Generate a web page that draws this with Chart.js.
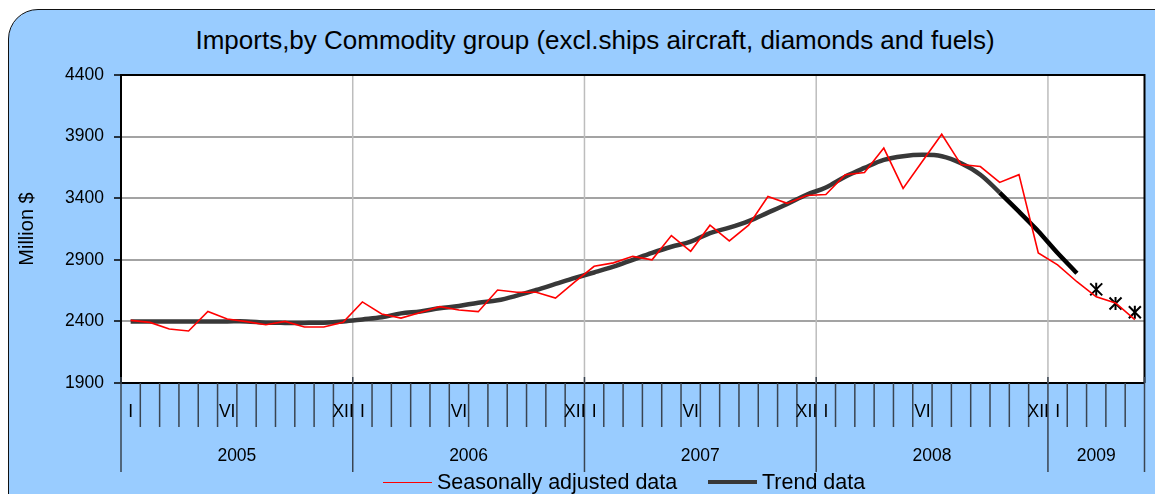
<!DOCTYPE html>
<html>
<head>
<meta charset="utf-8">
<script src="https://cdn.jsdelivr.net/npm/chart.js@4.4.1/dist/chart.umd.min.js"></script>
<style>
  body { margin: 0; width: 1155px; height: 494px; overflow: hidden; background: #fff;
         font-family: "Liberation Sans", Arial, sans-serif; }
  #frame { position: absolute; left: 8px; top: 9px; width: 1200px; height: 540px;
           background: #99ccff; border: 1.5px solid #111; border-radius: 30px; }
  #title { position: absolute; left: 0; width: 1190px; top: 25px; text-align: center;
           font-size: 26px; line-height: 30px; color: #000; }
  #chart { position: absolute; left: 0; top: 0; }
  .item { position: absolute; top: 470px; height: 24px; display: flex; align-items: center;
          font-size: 21.5px; line-height: 24px; white-space: nowrap; color: #000; }
  .swatch { width: 49px; margin-right: 5px; }
</style>
</head>
<body>
<div id="frame"></div>
<div id="title">Imports,by Commodity group (excl.ships aircraft, diamonds and fuels)</div>
<canvas id="chart" width="1155" height="494"></canvas>
<div id="legend"></div>
<script>
// Années et nombre de mois affichés
const years = ['2005', '2006', '2007', '2008', '2009'];
const monthsPerYear = [12, 12, 12, 12, 5];
const romanMarks = { 1: 'I', 6: 'VI', 12: 'XII' };

// Données corrigées des variations saisonnières (millions $)
const seasonal = [
  2408, 2392, 2338, 2322, 2481, 2420, 2398, 2373, 2400, 2355, 2355, 2392,
  2558, 2460, 2427, 2473, 2520, 2492, 2479, 2655, 2636, 2636, 2590, 2720,
  2847, 2875, 2928, 2900, 3097, 2969, 3181, 3053, 3181, 3414, 3358, 3422,
  3430, 3591, 3608, 3807, 3479, 3700, 3919, 3673, 3657, 3528, 3591, 2955,
  2859, 2722, 2599, 2550, 2414
];

// Tendance (jan 2005 - oct 2008)
const trend = [
  2400, 2400, 2400, 2400, 2400, 2400, 2400, 2390, 2388, 2388, 2390, 2400,
  2416, 2433, 2465, 2481, 2506, 2525, 2552, 2571, 2609, 2655, 2704, 2753,
  2797, 2844, 2900, 2956, 3006, 3047, 3117, 3161, 3214, 3283, 3353, 3428,
  3487, 3575, 3646, 3711, 3741, 3752, 3741, 3684, 3591, 3446
];
// Tendance provisoire (oct 2008 - fév 2009)
const trendLateStart = 45;
const trendLate = [3446, 3291, 3132, 2955, 2791];
// Estimations (mar - mai 2009)
const estimateStart = 50;
const estimates = [2660, 2545, 2474];

// Libellés des mois
const labels = [];
const yearStarts = [];
years.forEach((y, k) => {
  yearStarts.push(labels.length);
  for (let m = 1; m <= monthsPerYear[k]; m++) labels.push(y + '-' + m);
});
const total = labels.length;

function placeAt(start, values) {
  const out = new Array(total).fill(null);
  values.forEach((v, i) => { out[start + i] = v; });
  return out;
}

const tickColor = '#394451';
const fontFamily = '"Liberation Sans", Arial, sans-serif';
const axisFont = '17.5px ' + fontFamily;

const monthAxis = {
  id: 'monthAxis',
  beforeDraw(chart) {
    const { ctx, chartArea: a } = chart;
    ctx.save();
    ctx.fillStyle = '#fff';
    ctx.fillRect(a.left, a.top, a.right - a.left, a.bottom - a.top);
    ctx.restore();
  },
  beforeDatasetsDraw(chart) {
    const { ctx, chartArea: a, scales: { x } } = chart;
    const cell = x.getPixelForValue(1) - x.getPixelForValue(0);
    ctx.save();
    ctx.strokeStyle = '#bdbdbd';
    ctx.lineWidth = 1.5;
    yearStarts.slice(1).forEach(b => {
      const px = x.getPixelForValue(b) - cell / 2;
      ctx.beginPath();
      ctx.moveTo(px, a.top);
      ctx.lineTo(px, a.bottom);
      ctx.stroke();
    });
    ctx.restore();
  },
  afterDraw(chart) {
    const { ctx, chartArea: a, scales: { x } } = chart;
    const cell = x.getPixelForValue(1) - x.getPixelForValue(0);
    ctx.save();
    // cadre haut et droite
    ctx.strokeStyle = '#000';
    ctx.lineWidth = 2;
    ctx.beginPath();
    ctx.moveTo(a.left, a.top);
    ctx.lineTo(a.right, a.top);
    ctx.lineTo(a.right, a.bottom);
    ctx.stroke();

    // graduations des mois et des années
    ctx.strokeStyle = tickColor;
    ctx.lineWidth = 1.5;
    for (let b = 0; b <= total; b++) {
      const px = (b < total ? x.getPixelForValue(b) : x.getPixelForValue(total - 1) + cell) - cell / 2;
      const isYear = yearStarts.includes(b) || b === total;
      ctx.beginPath();
      ctx.moveTo(px, isYear ? a.bottom - 6 : a.bottom);
      ctx.lineTo(px, isYear ? a.bottom + 89 : a.bottom + 44);
      ctx.stroke();
    }

    ctx.fillStyle = '#000';
    ctx.font = axisFont;
    ctx.textAlign = 'center';
    ctx.textBaseline = 'middle';
    years.forEach((y, k) => {
      const start = yearStarts[k];
      for (let m = 1; m <= monthsPerYear[k]; m++) {
        if (romanMarks[m]) ctx.fillText(romanMarks[m], x.getPixelForValue(start + m - 1), a.bottom + 29);
      }
      const x0 = x.getPixelForValue(start) - cell / 2;
      const x1 = x.getPixelForValue(start + monthsPerYear[k] - 1) + cell / 2;
      ctx.fillText(y, (x0 + x1) / 2, a.bottom + 73);
    });
    ctx.restore();
  }
};

const chart = new Chart(document.getElementById('chart').getContext('2d'), {
  type: 'line',
  data: {
    labels: labels,
    datasets: [
      {
        label: 'Seasonally adjusted data',
        data: seasonal,
        borderColor: '#ff0000',
        borderWidth: 1.6,
        pointRadius: 0,
        tension: 0,
        showInLegend: true
      },
      {
        label: 'Trend data',
        data: placeAt(0, trend),
        borderColor: '#383838',
        borderWidth: 4.5,
        pointRadius: 0,
        tension: 0.35,
        showInLegend: true
      },
      {
        label: 'Trend (provisional)',
        data: placeAt(trendLateStart, trendLate),
        borderColor: '#000',
        borderWidth: 4.5,
        pointRadius: 0,
        tension: 0.2
      },
      {
        label: 'Estimate',
        data: placeAt(estimateStart, estimates),
        showLine: false,
        pointStyle: 'crossRot',
        pointRadius: 8.5,
        pointBorderWidth: 2,
        pointBorderColor: '#000'
      },
      {
        label: 'Estimate bar',
        data: placeAt(estimateStart, estimates),
        showLine: false,
        pointStyle: 'line',
        pointRotation: 90,
        pointRadius: 6.5,
        pointBorderWidth: 2,
        pointBorderColor: '#000'
      }
    ]
  },
  options: {
    responsive: false,
    animation: false,
    layout: { padding: { left: 0, top: 75, right: 8, bottom: 0 } },
    plugins: {
      legend: { display: false },
      title: { display: false },
      tooltip: { enabled: false }
    },
    scales: {
      x: {
        type: 'category',
        offset: true,
        ticks: { display: false, autoSkip: false },
        grid: { display: false },
        border: { display: true, color: '#000', width: 2 },
        afterFit: s => { s.height = 111; }
      },
      y: {
        min: 1900,
        max: 4400,
        ticks: {
          stepSize: 500,
          color: '#000',
          font: { family: fontFamily, size: 17.5 },
          padding: 10,
          callback: v => String(v)
        },
        grid: { color: '#a3a3a3', lineWidth: 2, tickColor: '#000', tickLength: 7, tickWidth: 1.5 },
        border: { color: '#000', width: 2 },
        title: {
          display: true,
          text: 'Million $',
          color: '#000',
          font: { family: fontFamily, size: 20 },
          padding: { top: 15.5, bottom: 0 }
        },
        afterFit: s => { s.width = 121; }
      }
    }
  },
  plugins: [monthAxis]
});

// Légende HTML construite depuis les jeux de données
const legend = document.getElementById('legend');
const legendLeft = [383, 708];
chart.data.datasets.filter(d => d.showInLegend).forEach((d, k) => {
  const item = document.createElement('div');
  item.className = 'item';
  item.style.left = legendLeft[k] + 'px';
  const sw = document.createElement('span');
  sw.className = 'swatch';
  sw.style.borderTop = d.borderWidth + 'px solid ' + d.borderColor;
  item.appendChild(sw);
  item.appendChild(document.createTextNode(d.label));
  legend.appendChild(item);
});
</script>
</body>
</html>
